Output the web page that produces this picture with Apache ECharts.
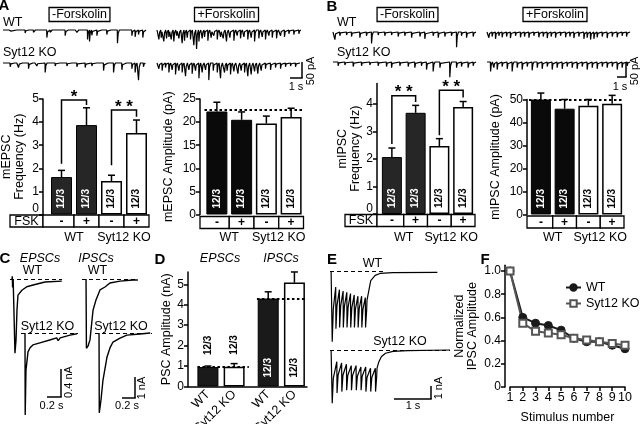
<!DOCTYPE html>
<html>
<head>
<meta charset="utf-8">
<script src="https://cdn.jsdelivr.net/npm/echarts@6/dist/echarts.min.js"></script>
<style>
  html, body { margin: 0; background: #fff; }
  #main { width: 640px; height: 424px; }
</style>
</head>
<body>
<div id="main"></div>
<script>
// ---- data ----
const conditions = ['-', '+', '-', '+'];
const groups = ['WT', 'Syt12 KO'];
const nLabel = '12/3';

const mepscFreq = [1.62, 3.87, 1.45, 3.53];
const mepscFreqErr = [1.91, 4.62, 1.7, 4.09];
const mepscAmp = [22.3, 20.5, 19.7, 21.1];
const mepscAmpErr = [24.3, 22.2, 21.3, 23.0];
const mepscAmpRef = 22.6;

const mipscFreq = [2.07, 3.68, 2.47, 3.89];
const mipscFreqErr = [2.4, 3.95, 2.74, 4.09];
const mipscAmp = [50, 46, 47.3, 48.1];
const mipscAmpErr = [52.8, 50, 50, 51.8];
const mipscAmpRef = 50;

// brackets: [bar1, bar2, leftBottom, top, rightBottom, stars]
const sigA = [[0, 1, 2.2, 4.96, 4.74, '*'], [2, 3, 2.13, 4.52, 4.23, '* *']];
const sigB = [[0, 1, 2.55, 4.3, 4.07, '* *'], [2, 3, 2.86, 4.5, 4.24, '* *']];

const pscCats = ['WT', 'Syt12 KO', 'WT', 'Syt12 KO'];
const pscPos = [0, 1, 2.3, 3.3];
const pscAmp = [0.95, 0.97, 4.3, 5.08];
const pscErr = [1.0, 1.12, 4.63, 5.6];
const pscRef = [0.95, 4.3];

const stimNum = [1, 2, 3, 4, 5, 6, 7, 8, 9, 10];
const ipscWT = [1.0, 0.60, 0.55, 0.53, 0.49, 0.42, 0.39, 0.39, 0.36, 0.33];
const ipscKO = [1.0, 0.55, 0.48, 0.465, 0.45, 0.42, 0.405, 0.39, 0.375, 0.36];

// miniature events [time s, amplitude pA]
const evAwtMinus = [[0.3,4],[0.6,3],[1.05,5],[1.69,8],[2.0,4],[2.33,6],[2.8,3],[3.36,20],[3.62,6],[4.2,4],[4.77,15],[5.03,5],[5.4,3],[5.67,6],[6.1,4],[6.49,25],[6.64,30],[6.82,14],[7.21,15],[7.6,3],[7.97,12],[8.3,4],[8.79,35],[9.4,3],[9.9,15],[10.15,18],[10.41,12],[10.74,20]];
const evAwtPlus = [[0.13,25],[0.31,20],[0.51,30],[0.72,22],[0.9,18],[1.08,25],[1.28,30],[1.49,15],[1.67,22],[1.92,35],[2.1,28],[2.31,20],[2.56,25],[2.82,40],[3.03,50],[3.21,30],[3.46,22],[3.64,18],[3.9,28],[4.15,20],[4.36,15],[4.62,25],[4.87,18],[5.08,22],[5.33,30],[5.59,20],[5.9,28],[6.15,15],[6.41,22],[6.67,18],[6.97,25],[7.23,20],[7.49,30],[7.82,22],[8.08,18],[8.33,25],[8.59,15],[8.85,20],[9.18,22],[9.49,15],[9.79,18],[10.13,10],[10.51,12],[10.9,10]];
const evAkoMinus = [[0.54,10],[0.9,4],[1.18,12],[1.5,3],[1.95,15],[2.3,4],[2.59,8],[3.23,25],[3.6,4],[4.0,8],[4.4,3],[4.9,8],[5.3,4],[5.67,10],[6.31,12],[6.82,8],[7.2,4],[7.72,20],[8.1,4],[8.49,25],[9.13,18],[9.5,4],[9.9,15],[10.15,25],[10.41,45],[10.79,10]];
const evAkoPlus = [[0.13,15],[0.38,20],[0.64,12],[0.9,25],[1.15,18],[1.41,30],[1.67,20],[1.92,25],[2.18,35],[2.44,18],[2.69,28],[2.95,20],[3.21,40],[3.46,25],[3.72,18],[3.97,45],[4.31,20],[4.62,25],[4.87,40],[5.18,25],[5.38,20],[5.64,30],[5.9,22],[6.21,28],[6.46,20],[6.72,25],[6.97,35],[7.23,30],[7.49,22],[7.74,28],[8.0,20],[8.33,15],[8.72,18],[9.1,12],[9.49,15],[9.87,10],[10.26,8],[10.64,10]];
const evBwtMinus = [[0.13,20],[0.51,10],[1.03,8],[1.41,12],[2.05,15],[2.56,10],[2.95,30],[3.46,8],[3.97,10],[4.49,8],[5.0,12],[5.51,10],[6.03,15],[6.67,12],[7.05,18],[7.69,10],[8.08,15],[8.59,12],[9.1,10],[9.49,40],[9.87,10],[10.26,15],[10.77,12]];
const evBwtPlus = [[0.13,15],[0.38,12],[0.64,18],[0.9,10],[1.15,14],[1.49,12],[1.79,16],[2.18,10],[2.56,14],[2.87,12],[3.21,15],[3.59,10],[3.97,14],[4.31,12],[4.62,16],[4.92,12],[5.26,15],[5.64,10],[6.03,14],[6.36,12],[6.67,16],[7.05,12],[7.44,18],[7.69,15],[7.95,20],[8.21,18],[8.46,14],[8.85,12],[9.23,16],[9.62,12],[10.0,14],[10.38,10],[10.72,12]];
const evBkoMinus = [[0.38,10],[0.9,8],[1.54,12],[2.18,10],[2.82,8],[3.46,10],[4.1,12],[4.49,15],[5.13,10],[5.77,12],[6.28,15],[6.79,10],[7.18,20],[7.69,25],[8.21,15],[8.97,40],[9.49,15],[9.87,12],[10.38,15],[10.77,10]];
const evBkoPlus = [[0.26,25],[0.51,15],[0.77,20],[1.15,12],[1.54,18],[1.92,25],[2.31,15],[2.69,20],[3.08,12],[3.46,22],[3.85,15],[4.23,18],[4.62,12],[5.0,20],[5.38,15],[5.77,18],[6.15,12],[6.54,15],[6.92,18],[7.31,12],[7.69,20],[8.08,15],[8.46,18],[8.85,12],[9.23,15],[9.62,12],[10.0,20],[10.38,15],[10.77,10]];

// evoked currents [time s, current nA]
const epscWT = [[0.029,0],[0.033,0.04],[0.037,-0.12],[0.045,0],[0.07,0],[0.071,-1.06],[0.086,-0.87],[0.1,-0.44],[0.114,-0.23],[0.17,-0.16],[0.24,-0.11],[0.33,-0.086],[0.5,-0.043],[0.74,-0.03]];
const epscKO = [[0.057,0],[0.06,-1.17],[0.071,-0.53],[0.1,-0.27],[0.13,-0.21],[0.17,-0.17],[0.27,-0.14],[0.41,-0.1],[0.51,-0.07],[0.53,-0.11],[0.56,-0.07],[0.7,-0.03],[0.8,-0.01]];
const ipscTrWT = [[0.062,0],[0.068,-3.3],[0.092,-3.2],[0.123,-2.9],[0.17,-1.48],[0.215,-1.0],[0.277,-0.52],[0.354,-0.38],[0.43,-0.19],[0.585,-0.1],[0.785,-0.05],[0.86,-0.05]];
const ipscTrKO = [[0.062,0],[0.066,-3.8],[0.092,-3.19],[0.123,-2.24],[0.185,-1.14],[0.23,-0.71],[0.277,-0.43],[0.385,-0.24],[0.49,-0.1],[0.69,-0.05],[0.85,0]];

// 10-stimulus trains: stim times (s), peak and residual current (nA), tail
const trainStimWT = [0.054, 0.154, 0.254, 0.354, 0.454, 0.554, 0.654, 0.754, 0.854, 0.954];
const trainPeakWT = [5.4, 4.4, 4.3, 4.3, 4.3, 4.3, 4.3, 4.3, 4.3, 4.3];
const trainResWT = [1.2, 1.4, 1.5, 1.6, 1.7, 1.8, 1.9, 1.9, 2.0];
const tailWT = [[1.0,2.2],[1.05,1.46],[1.1,0.7],[1.22,0.3],[1.35,0.15],[1.7,0.08],[2.9,0.07]];
const trainStimKO = [0.054, 0.184, 0.314, 0.444, 0.574, 0.704, 0.834, 0.964, 1.094, 1.224];
const trainPeakKO = [4.1, 3.3, 3.2, 3.1, 3.1, 3.1, 3.1, 3.2, 3.2, 3.2];
const trainResKO = [0.9, 1.0, 1.1, 1.2, 1.2, 1.3, 1.3, 1.4, 1.4];
const tailKO = [[1.27,1.4],[1.32,0.9],[1.39,0.5],[1.5,0.25],[1.7,0.1],[2.1,0.05],[3.24,0.0]];

// ---- chart setup ----
const FF = '"Liberation Sans", Arial, sans-serif';
const grid = [], xAxis = [], yAxis = [], series = [], graphic = [];

function addGrid(g, xa, ya) {
  g.outerBoundsMode = 'none';
  grid.push(g);
  const i = grid.length - 1;
  xa.gridIndex = i; ya.gridIndex = i;
  xAxis.push(xa); yAxis.push(ya);
  return i;
}
function txt(x, y, s, o) {
  o = o || {};
  graphic.push({
    type: 'text', x: x, y: y, rotation: o.rot || 0, silent: true,
    style: Object.assign({
      text: s, fill: '#000', align: o.align || 'center', verticalAlign: 'middle',
      font: (o.style || '') + ' ' + (o.weight || 'normal') + ' ' + (o.size || 12.5) + 'px ' + FF
    }, o.box ? { borderColor: '#000', borderWidth: 1.3, padding: [1, 3, 0, 3] } : {})
  });
}
function seg(x1, y1, x2, y2, w) {
  graphic.push({ type: 'line', silent: true, shape: { x1, y1, x2, y2 }, style: { stroke: '#000', lineWidth: w || 1.5 } });
}
function box(x, y, w, h) {
  graphic.push({ type: 'rect', silent: true, shape: { x, y, width: w, height: h }, style: { fill: '#fff', stroke: '#000', lineWidth: 1.3 } });
}

function eventTrace(ev, dur) {
  const d = [[0, 0]];
  ev.forEach(([t, a]) => d.push([t, 0], [t + 0.015, -a], [t + 0.07, -a * 0.25], [t + 0.16, 0]));
  d.push([dur, 0]);
  return d;
}
function trainTrace(stim, peak, res, tail) {
  const d = [[0.03, 0]];
  stim.forEach((t, k) => {
    const before = k ? res[k - 1] : 0;
    const after = k < res.length ? res[k] : tail[0][1];
    d.push([t, -before], [t + 0.006, -peak[k]], [t + 0.035, -(after + (peak[k] - after) * 0.4)]);
  });
  tail.forEach(([t, v]) => d.push([t, -v]));
  return d;
}
function addTrace(data, o) {
  const top = o.base - o.ymax * o.ky;
  const i = addGrid({ left: o.left, top: top, width: o.width, height: (o.ymax - o.ymin) * o.ky },
    { type: 'value', min: o.xmin || 0, max: o.xmax, show: false },
    { type: 'value', min: o.ymin, max: o.ymax, show: false });
  const s = {
    type: 'line', xAxisIndex: i, yAxisIndex: i, data: data, symbol: 'none', silent: true,
    lineStyle: { color: '#000', width: o.lw || 1 }
  };
  if (o.dash) {
    s.markLine = {
      symbol: 'none', silent: true, label: { show: false },
      lineStyle: { color: '#000', type: [4, 3], width: 1.2 },
      data: [[{ coord: [o.dash[0], 0] }, { coord: [o.dash[1], 0] }]]
    };
  }
  series.push(s);
}

const axLine = { show: true, onZero: false, lineStyle: { color: '#000', width: 1.5 } };
const axTick = { show: true, length: 4, lineStyle: { color: '#000', width: 1.5 } };
const axLabel = { color: '#000', fontSize: 12, fontFamily: FF, margin: 4 };
const nameStyle = { color: '#000', fontSize: 12.5, fontFamily: FF, lineHeight: 13 };

function errSeries(i, vals, errs, xs) {
  series.push({
    type: 'custom', xAxisIndex: i, yAxisIndex: i, silent: true, z: 1,
    data: vals.map((v, k) => [xs ? xs[k] : k, v, errs[k]]),
    renderItem: (p, api) => {
      const a = api.coord([api.value(0), api.value(1)]);
      const b = api.coord([api.value(0), api.value(2)]);
      return {
        type: 'group', children: [
          { type: 'line', shape: { x1: a[0], y1: a[1], x2: b[0], y2: b[1] }, style: { stroke: '#000', lineWidth: 1.5 } },
          { type: 'line', shape: { x1: b[0] - 3.5, y1: b[1], x2: b[0] + 3.5, y2: b[1] }, style: { stroke: '#000', lineWidth: 1.5 } }
        ]
      };
    }
  });
}
function sigSeries(i, sig) {
  series.push({
    type: 'custom', xAxisIndex: i, yAxisIndex: i, silent: true, z: 5,
    data: sig.map(s => [s[0], s[3]]),
    renderItem: (p, api) => {
      const s = sig[p.dataIndex];
      const a = api.coord([s[0], s[2]]), b = api.coord([s[0], s[3]]);
      const c = api.coord([s[1], s[3]]), d = api.coord([s[1], s[4]]);
      return {
        type: 'group', children: [
          { type: 'polyline', shape: { points: [a, b, c, d] }, style: { stroke: '#000', lineWidth: 1.5, fill: null } },
          { type: 'text', x: (b[0] + c[0]) / 2, y: b[1] - 3, style: { text: s[5], font: 'bold 17px ' + FF, fill: '#000', align: 'center', verticalAlign: 'middle' } }
        ]
      };
    }
  });
}

function addBars(o) {
  const top = o.zeroY - o.ymax * o.ky;
  const i = addGrid({ left: o.left, top: top, width: o.width, height: o.ymax * o.ky },
    { type: 'category', data: conditions, show: false },
    {
      type: 'value', min: 0, max: o.ymax, interval: o.interval, offset: o.left - o.axisX,
      axisLine: axLine, axisTick: axTick, splitLine: { show: false },
      axisLabel: Object.assign({}, axLabel, {
        showMaxLabel: o.ymax % o.interval === 0,
        formatter: v => (v === 0 && o.raiseZero) ? '{z|0}' : String(v),
        rich: { z: { padding: [0, 0, 11, 0], fontSize: 12, fontFamily: FF, color: '#000' } }
      }),
      name: o.yName, nameLocation: 'middle', nameGap: o.nameGap, nameTextStyle: nameStyle
    });
  const bar = {
    type: 'bar', xAxisIndex: i, yAxisIndex: i, barWidth: o.barWidth, silent: true, z: 2,
    data: o.vals.map((v, k) => ({
      value: v,
      itemStyle: k < 2 ? { color: o.dark, borderColor: '#000', borderWidth: 1 } : { color: '#fff', borderColor: '#000', borderWidth: 1.5 },
      label: { color: k < 2 ? '#fff' : '#000' }
    })),
    label: {
      show: true, formatter: nLabel, position: 'insideBottom', rotate: 90, align: 'left', verticalAlign: 'middle',
      distance: 6, fontSize: 10, fontWeight: 'bold', fontFamily: FF
    }
  };
  if (o.ref != null) {
    bar.markLine = {
      symbol: 'none', silent: true, label: { show: false },
      lineStyle: { color: '#000', type: [2.5, 2.5], width: 2.2 }, data: [{ yAxis: o.ref }]
    };
  }
  series.push(bar);
  errSeries(i, o.vals, o.errs);
  if (o.sig) sigSeries(i, o.sig);

  // FSK table below the bars
  const slot = o.width / 4, ty = o.tableTop, th = 12;
  if (o.fskLeft != null) {
    box(o.fskLeft, ty, o.axisX - o.fskLeft, th);
    txt((o.fskLeft + o.axisX) / 2, ty + th / 2 + 0.5, 'FSK', { size: 12.5 });
  }
  const edges = [o.axisX, o.left + slot, o.left + 2 * slot, o.left + 3 * slot, o.left + o.width];
  conditions.forEach((c, k) => {
    box(edges[k], ty, edges[k + 1] - edges[k], th);
    txt(o.left + slot * (k + 0.5), ty + th / 2 + 0.5, c, { size: 12, weight: 'bold' });
  });
  groups.forEach((g, k) => txt(o.left + slot * (2 * k + 1), 237.5, g, { size: 12.5 }));
}

// ---- panel A ----
txt(4, 6, 'A', { size: 15, weight: 'bold' });
txt(79.5, 14.5, '-Forskolin', { box: true });
txt(226.5, 14.5, '+Forskolin', { box: true });
txt(3, 22.5, 'WT', { align: 'left' });
txt(3, 53, 'Syt12 KO', { align: 'left' });
const trA = { xmax: 11, width: 143, ky: 0.38, ymin: -60, ymax: 5, lw: 1.2 };
addTrace(eventTrace(evAwtMinus, 11), Object.assign({}, trA, { left: 3, base: 30 }));
addTrace(eventTrace(evAwtPlus, 11), Object.assign({}, trA, { left: 157, base: 30 }));
addTrace(eventTrace(evAkoMinus, 11), Object.assign({}, trA, { left: 3, base: 63 }));
addTrace(eventTrace(evAkoPlus, 11), Object.assign({}, trA, { left: 157, base: 63 }));
seg(302, 62, 302, 78); seg(290, 78, 302.7, 78);
txt(296, 86.5, '1 s', { size: 11 });
txt(311, 71, '50 pA', { size: 11, rot: Math.PI / 2 });

addBars({ left: 49, width: 100, axisX: 43, zeroY: 214.5, ky: 23.1, ymax: 5, interval: 1, barWidth: 21,
  vals: mepscFreq, errs: mepscFreqErr, dark: '#262626', yName: 'mEPSC\nFrequency (Hz)', nameGap: 17,
  raiseZero: true, sig: sigA, fskLeft: 10, tableTop: 215 });
addBars({ left: 204.5, width: 99, axisX: 200, zeroY: 214.5, ky: 4.62, ymax: 25, interval: 5, barWidth: 21,
  vals: mepscAmp, errs: mepscAmpErr, dark: '#0a0a0a', yName: 'mEPSC Amplitude (pA)', nameGap: 25,
  ref: mepscAmpRef, tableTop: 216.5 });

// ---- panel B ----
txt(332, 7, 'B', { size: 15, weight: 'bold' });
txt(407.5, 14.5, '-Forskolin', { box: true });
txt(555, 14.5, '+Forskolin', { box: true });
txt(337, 23, 'WT', { align: 'left' });
txt(337, 53, 'Syt12 KO', { align: 'left' });
addTrace(eventTrace(evBwtMinus, 11), Object.assign({}, trA, { left: 333, base: 32 }));
addTrace(eventTrace(evBwtPlus, 11), Object.assign({}, trA, { left: 487, base: 32 }));
addTrace(eventTrace(evBkoMinus, 11), Object.assign({}, trA, { left: 333, base: 62 }));
addTrace(eventTrace(evBkoPlus, 11), Object.assign({}, trA, { left: 487, base: 62 }));
seg(626, 62, 626, 77); seg(617, 77, 626.7, 77);
txt(620, 87, '1 s', { size: 11 });
txt(635, 71, '50 pA', { size: 11, rot: Math.PI / 2 });

addBars({ left: 380, width: 95, axisX: 377, zeroY: 214, ky: 27.5, ymax: 4.75, interval: 1, barWidth: 20,
  vals: mipscFreq, errs: mipscFreqErr, dark: '#262626', yName: 'mIPSC\nFrequency (Hz)', nameGap: 14,
  raiseZero: true, sig: sigB, fskLeft: 345, tableTop: 214.5 });
addBars({ left: 529, width: 95, axisX: 527, zeroY: 214.5, ky: 2.3, ymax: 50, interval: 10, barWidth: 20,
  vals: mipscAmp, errs: mipscAmpErr, dark: '#0a0a0a', yName: 'mIPSC Amplitude (pA)', nameGap: 25,
  ref: mipscAmpRef, tableTop: 216 });

// ---- panel C ----
txt(5, 259, 'C', { size: 15, weight: 'bold' });
txt(40, 259, 'EPSCs', { size: 12.5, style: 'italic' });
txt(96, 259, 'IPSCs', { size: 12.5, style: 'italic' });
txt(32.5, 271, 'WT'); txt(97.5, 271, 'WT');
txt(47.5, 327, 'Syt12 KO'); txt(121, 327, 'Syt12 KO');
addTrace(epscWT, { left: 10, width: 52, xmax: 0.743, base: 279, ky: 70, ymin: -1.2, ymax: 0.2, dash: [0, 0.743], lw: 1.4 });
addTrace(epscKO, { left: 21, width: 57, xmax: 0.814, base: 333, ky: 70, ymin: -1.3, ymax: 0.2, dash: [0, 0.814], lw: 1.4 });
addTrace(ipscTrWT, { left: 82, width: 56, xmax: 0.862, base: 279, ky: 21, ymin: -3.5, ymax: 0.3, dash: [0, 0.862], lw: 1.4 });
addTrace(ipscTrKO, { left: 95, width: 57, xmax: 0.877, base: 333, ky: 21, ymin: -4, ymax: 0.3, dash: [0, 0.877], lw: 1.4 });
seg(61, 369, 61, 397); seg(47, 397, 61.7, 397);
txt(51.5, 405.5, '0.2 s', { size: 11 });
txt(68.5, 382, '0.4 nA', { size: 11, rot: Math.PI / 2 });
seg(135, 377, 135, 398); seg(122, 398, 135.7, 398);
txt(127, 406, '0.2 s', { size: 11 });
txt(142, 388, '1 nA', { size: 11, rot: Math.PI / 2 });

// ---- panel D ----
txt(160, 260, 'D', { size: 15, weight: 'bold' });
txt(220, 259, 'EPSCs', { size: 12.5, style: 'italic' });
txt(281, 259, 'IPSCs', { size: 12.5, style: 'italic' });
{
  const zeroY = 386.5, ky = 20.45, ymax = 5.6;
  const i = addGrid({ left: 188, top: zeroY - ymax * ky, width: 119, height: ymax * ky },
    {
      type: 'value', min: -0.76, max: 3.78, axisLine: axLine, axisTick: { show: false }, splitLine: { show: false },
      axisLabel: Object.assign({}, axLabel, {
        customValues: pscPos, rotate: 45, fontSize: 12.5, margin: 6,
        formatter: v => pscCats[pscPos.indexOf(v)] || ''
      })
    },
    {
      type: 'value', min: 0, max: ymax, interval: 1, axisLine: axLine, axisTick: axTick, splitLine: { show: false },
      axisLabel: Object.assign({}, axLabel, { showMaxLabel: false }),
      name: 'PSC Amplitude (nA)', nameLocation: 'middle', nameGap: 14, nameTextStyle: nameStyle
    });
  series.push({
    type: 'bar', xAxisIndex: i, yAxisIndex: i, barWidth: 21, silent: true, z: 2,
    data: pscAmp.map((v, k) => ({
      value: [pscPos[k], v],
      itemStyle: k % 2 === 0 ? { color: '#1a1a1a', borderColor: '#000', borderWidth: 1 } : { color: '#fff', borderColor: '#000', borderWidth: 1.5 },
      label: k < 2 ? { position: 'top', distance: 12, color: '#000' } : { position: 'insideBottom', distance: 9, color: k === 2 ? '#fff' : '#000' }
    })),
    label: { show: true, formatter: nLabel, rotate: 90, align: 'left', verticalAlign: 'middle', fontSize: 10, fontWeight: 'bold', fontFamily: FF },
    markLine: {
      symbol: 'none', silent: true, label: { show: false },
      lineStyle: { color: '#000', type: [2.5, 2.5], width: 2.2 },
      data: [
        [{ coord: [-0.4, pscRef[0]] }, { coord: [1.56, pscRef[0]] }],
        [{ coord: [1.87, pscRef[1]] }, { coord: [3.78, pscRef[1]] }]
      ]
    }
  });
  errSeries(i, pscAmp, pscErr, pscPos);
}

// ---- panel E ----
txt(332, 260, 'E', { size: 15, weight: 'bold' });
txt(372.5, 264, 'WT');
txt(400, 342, 'Syt12 KO');
addTrace(trainTrace(trainStimWT, trainPeakWT, trainResWT, tailWT), { left: 330, width: 107, xmax: 2.89, base: 271.5, ky: 13, ymin: -6, ymax: 0.5, dash: [0, 1.43], lw: 1.2 });
addTrace(trainTrace(trainStimKO, trainPeakKO, trainResKO, tailKO), { left: 330, width: 120, xmax: 3.24, base: 350, ky: 13, ymin: -5, ymax: 0.5, dash: [0, 3.24], lw: 1.2 });
seg(431, 386, 431, 399); seg(394, 399, 431.7, 399);
txt(413, 406, '1 s', { size: 11 });
txt(439, 388, '1 nA', { size: 11, rot: Math.PI / 2 });

// ---- panel F ----
txt(485, 260, 'F', { size: 15, weight: 'bold' });
{
  const zeroY = 387, ky = 116, ymax = 1.05;
  const i = addGrid({ left: 510, top: zeroY - ymax * ky, width: 115, height: ymax * ky },
    {
      type: 'value', min: 1, max: 10, interval: 1, axisLine: axLine, axisTick: axTick, splitLine: { show: false },
      axisLabel: Object.assign({}, axLabel, { fontSize: 12.5 }),
      name: 'Stimulus number', nameLocation: 'middle', nameGap: 24, nameTextStyle: nameStyle
    },
    {
      type: 'value', min: 0, max: ymax, interval: 0.2, offset: 5, axisLine: axLine, axisTick: axTick, splitLine: { show: false },
      axisLabel: Object.assign({}, axLabel, { showMaxLabel: false, formatter: v => v === 0 ? '0' : v.toFixed(1) }),
      name: 'Normalized\nIPSC Amplitude', nameLocation: 'middle', nameGap: 26, nameTextStyle: nameStyle
    });
  series.push({
    name: 'WT', type: 'line', xAxisIndex: i, yAxisIndex: i, data: stimNum.map((s, k) => [s, ipscWT[k]]),
    symbol: 'circle', symbolSize: 8, lineStyle: { color: '#1a1a1a', width: 2 },
    itemStyle: { color: '#1a1a1a', borderColor: '#1a1a1a', borderWidth: 1 }
  });
  series.push({
    name: 'Syt12 KO', type: 'line', xAxisIndex: i, yAxisIndex: i, data: stimNum.map((s, k) => [s, ipscKO[k]]),
    symbol: 'rect', symbolSize: 7, lineStyle: { color: '#555', width: 2 },
    itemStyle: { color: '#fff', borderColor: '#555', borderWidth: 2 }
  });
}

const chart = echarts.init(document.getElementById('main'), null, { renderer: 'canvas' });
chart.setOption({
  animation: false,
  backgroundColor: '#fff',
  textStyle: { fontFamily: FF },
  grid: grid, xAxis: xAxis, yAxis: yAxis, series: series, graphic: graphic,
  legend: {
    data: ['WT', 'Syt12 KO'], left: 560, top: 276, orient: 'vertical', itemWidth: 15, itemHeight: 8, itemGap: 3,
    textStyle: { color: '#000', fontSize: 12.5, fontFamily: FF }, selectedMode: false
  }
});
</script>
</body>
</html>
